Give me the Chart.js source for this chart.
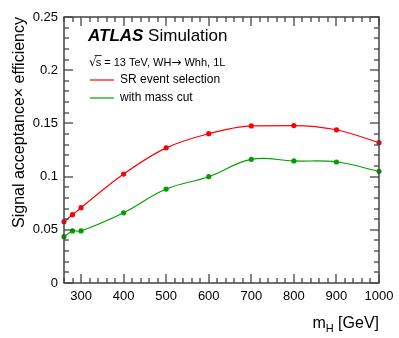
<!DOCTYPE html>
<html>
<head>
<meta charset="utf-8">
<script src="https://cdn.jsdelivr.net/npm/chart.js@4.4.1/dist/chart.umd.min.js"></script>
<style>
  html, body { margin: 0; padding: 0; background: #fff; }
  #wrap { width: 399px; height: 338px; }
</style>
</head>
<body>
<div id="wrap"><canvas id="c" width="399" height="338"></canvas></div>
<script>
// ── Data ────────────────────────────────────────────────────────────
const masses = [260, 280, 300, 400, 500, 600, 700, 800, 900, 1000];
const srSelection = [0.0576, 0.0642, 0.0708, 0.1024, 0.127, 0.1403, 0.1476, 0.148, 0.144, 0.1319];
const withMassCut = [0.0435, 0.0489, 0.0489, 0.066, 0.0883, 0.0999, 0.1162, 0.1147, 0.1137, 0.105];
const xTicks = [300, 400, 500, 600, 700, 800, 900, 1000];
const yTicks = [0, 0.05, 0.1, 0.15, 0.2, 0.25];

const FONT = "'Liberation Sans', Arial, Helvetica, sans-serif";
const RED = '#ff0000';
const GREEN = '#00a000';
const AXIS = '#444';

const toPts = (ys) => masses.map((m, i) => ({ x: m, y: ys[i] }));

// ── Frame, inward ticks, labels, legend ─────────────────────────────
const atlasFrame = {
  id: 'atlasFrame',
  afterDraw(chart) {
    const { ctx, chartArea: a, scales: { x, y } } = chart;
    const L = Math.round(a.left), R = Math.round(a.right);
    const T = Math.round(a.top), B = Math.round(a.bottom);
    ctx.save();
    ctx.strokeStyle = AXIS;
    ctx.lineWidth = 1.5;
    ctx.strokeRect(L, T, R - L, B - T);

    const line = (x0, y0, x1, y1) => {
      ctx.beginPath(); ctx.moveTo(x0, y0); ctx.lineTo(x1, y1); ctx.stroke();
    };
    ctx.lineWidth = 1.3;
    // x ticks every 20, major every 100
    for (let v = 260; v <= 1000; v += 20) {
      const px = Math.round(x.getPixelForValue(v));
      const len = v % 100 === 0 ? 9 : 5;
      line(px, B, px, B - len);
      line(px, T, px, T + len);
    }
    // y ticks every 0.01, major every 0.05
    for (let i = 0; i <= 25; i++) {
      const py = Math.round(y.getPixelForValue(i / 100));
      const len = i % 5 === 0 ? 9 : 5;
      line(L, py, L + len, py);
      line(R, py, R - len, py);
    }

    ctx.fillStyle = '#000';
    ctx.font = `13px ${FONT}`;
    ctx.textBaseline = 'middle';
    ctx.textAlign = 'right';
    yTicks.forEach(v => ctx.fillText(String(v), L - 6, y.getPixelForValue(v)));
    ctx.textAlign = 'center';
    ctx.textBaseline = 'top';
    xTicks.forEach(v => ctx.fillText(String(v), x.getPixelForValue(v), B + 7));

    // axis titles
    ctx.font = `16px ${FONT}`;
    ctx.textAlign = 'right';
    ctx.textBaseline = 'alphabetic';
    ctx.fillText('[GeV]', R, 328);
    const gw = ctx.measureText(' [GeV]').width;
    ctx.font = `11px ${FONT}`;
    const hw = ctx.measureText('H').width;
    ctx.fillText('H', R - gw, 332);
    ctx.font = `16px ${FONT}`;
    ctx.fillText('m', R - gw - hw, 328);

    ctx.save();
    ctx.translate(24, T);
    ctx.rotate(-Math.PI / 2);
    ctx.textAlign = 'right';
    ctx.fillText('Signal acceptance\u00d7 efficiency', 0, 0);
    ctx.restore();

    // ATLAS label
    ctx.textAlign = 'left';
    ctx.font = `bold italic 17px ${FONT}`;
    ctx.fillText('ATLAS', 88, 41);
    const aw = ctx.measureText('ATLAS ').width;
    ctx.font = `17px ${FONT}`;
    ctx.fillText('Simulation', 88 + aw, 41);

    // √s line, drawn in pieces so the root bar and arrow look right
    let cx = 89;
    const base = 66;
    ctx.font = `12px 'DejaVu Sans', ${FONT}`;
    ctx.fillText('\u221a', cx, base);
    cx += ctx.measureText('\u221a').width - 1;
    ctx.font = `11px ${FONT}`;
    ctx.fillText('s', cx, base);
    const sw = ctx.measureText('s').width;
    ctx.strokeStyle = '#000';
    ctx.lineWidth = 0.8;
    line(cx - 1, base - 10.5, cx + sw + 0.5, base - 10.5);
    cx += sw;
    const part1 = ' = 13 TeV, WH';
    ctx.fillText(part1, cx, base);
    cx += ctx.measureText(part1).width;
    ctx.font = `12px 'DejaVu Sans', ${FONT}`;
    ctx.fillText('\u2192', cx, base);
    cx += ctx.measureText('\u2192').width;
    ctx.font = `11px ${FONT}`;
    ctx.fillText(' Whh, 1L', cx, base);

    // legend
    const items = [
      { label: 'SR event selection', color: RED, y: 80 },
      { label: 'with mass cut', color: GREEN, y: 98 },
    ];
    ctx.font = `12px ${FONT}`;
    ctx.textBaseline = 'middle';
    items.forEach(it => {
      ctx.strokeStyle = it.color;
      ctx.lineWidth = 1.2;
      line(90, it.y, 114, it.y);
      ctx.fillText(it.label, 120, it.y);
    });
    ctx.restore();
  },
};

new Chart(document.getElementById('c').getContext('2d'), {
  type: 'line',
  data: {
    datasets: [
      {
        label: 'SR event selection',
        data: toPts(srSelection),
        borderColor: RED,
        backgroundColor: RED,
        borderWidth: 1.2,
        pointRadius: 2.6,
        pointBorderWidth: 0,
        tension: 0.4,
        cubicInterpolationMode: 'monotone',
      },
      {
        label: 'with mass cut',
        data: toPts(withMassCut),
        borderColor: GREEN,
        backgroundColor: GREEN,
        borderWidth: 1.2,
        pointRadius: 2.6,
        pointBorderWidth: 0,
        tension: 0.4,
      },
    ],
  },
  options: {
    responsive: false,
    animation: false,
    clip: false,
    layout: { padding: { left: 64, right: 20, top: 17, bottom: 55 } },
    plugins: { legend: { display: false }, tooltip: { enabled: false } },
    scales: {
      x: { type: 'linear', min: 260, max: 1000, display: false },
      y: { type: 'linear', min: 0, max: 0.25, display: false },
    },
  },
  plugins: [atlasFrame],
});
</script>
</body>
</html>
